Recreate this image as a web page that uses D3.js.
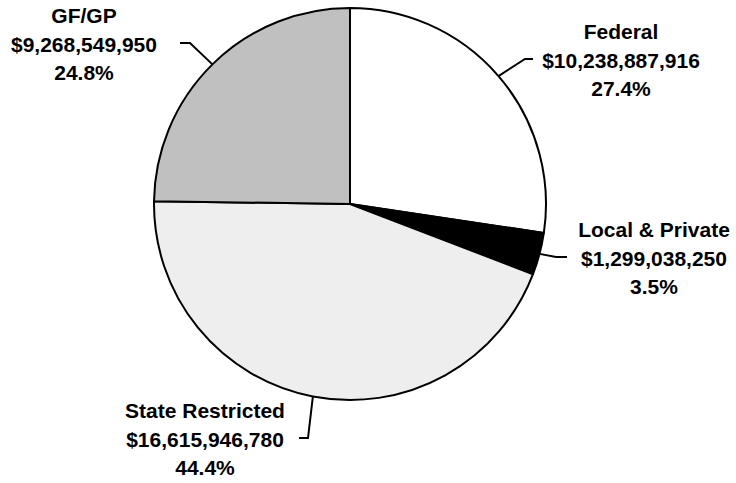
<!DOCTYPE html>
<html>
<head>
<meta charset="utf-8">
<script src="https://cdn.jsdelivr.net/npm/d3@7"></script>
<style>
  body { margin: 0; background: #fff; }
  .lbl { font-family: "Liberation Sans", Arial, sans-serif; font-weight: bold; font-size: 21px; fill: #000; }
</style>
</head>
<body>
<div id="pie_chart"></div>
<script>
var width = 736;
var height = 483;

// data, in drawing order (clockwise from 12 o'clock)
var funds = ["Federal", "Local & Private", "State Restricted", "GF/GP"];
var amounts = [10238887916, 1299038250, 16615946780, 9268549950];
var percents = ["27.4%", "3.5%", "44.4%", "24.8%"];

var fills = ["#ffffff", "#000000", "#eeeeee", "#c0c0c0"];

// label placement: text centre, first baseline, and the elbow of the leader line
var labelPos = [
  { x: 621, y: 39, ex: 525, ey: 59, hx: 533 },
  { x: 654, y: 237, ex: 556, ey: 257, hx: 567 },
  { x: 205, y: 418, ex: 308, ey: 438, hx: 299 },
  { x: 84, y: 23, ex: 190, ey: 43, hx: 180 }
];

var cx = 350, cy = 204, radius = 196;
var lineGap = 28.5;

var svg = d3.select("#pie_chart")
  .append("svg")
  .attr("width", width)
  .attr("height", height);

var pie = d3.pie().sort(null).value(function (d) { return d; });
var arcs = pie(amounts);

var arc = d3.arc().innerRadius(0).outerRadius(radius);

var g = svg.append("g")
  .attr("transform", "translate(" + cx + "," + cy + ")");

g.selectAll("path")
  .data(arcs)
  .enter()
  .append("path")
  .attr("d", arc)
  .attr("fill", function (d, i) { return fills[i]; })
  .attr("stroke", "#000")
  .attr("stroke-width", 2)
  .attr("stroke-linejoin", "round");

// leader lines: from the rim at the slice's middle angle, to elbow, to label
arcs.forEach(function (d, i) {
  var a = (d.startAngle + d.endAngle) / 2;
  var px = cx + radius * Math.sin(a);
  var py = cy - radius * Math.cos(a);
  var p = labelPos[i];
  svg.append("polyline")
    .attr("points", [[px, py], [p.ex, p.ey], [p.hx, p.ey]].map(function (q) { return q.join(","); }).join(" "))
    .attr("fill", "none")
    .attr("stroke", "#000")
    .attr("stroke-width", 2);
});

var fmt = d3.format(",");

arcs.forEach(function (d, i) {
  var p = labelPos[i];
  var t = svg.append("text")
    .attr("class", "lbl")
    .attr("text-anchor", "middle");
  var lines = [funds[i], "$" + fmt(amounts[i]), percents[i]];
  lines.forEach(function (s, k) {
    t.append("tspan")
      .attr("x", p.x)
      .attr("y", p.y + k * lineGap)
      .text(s);
  });
});
</script>
</body>
</html>
